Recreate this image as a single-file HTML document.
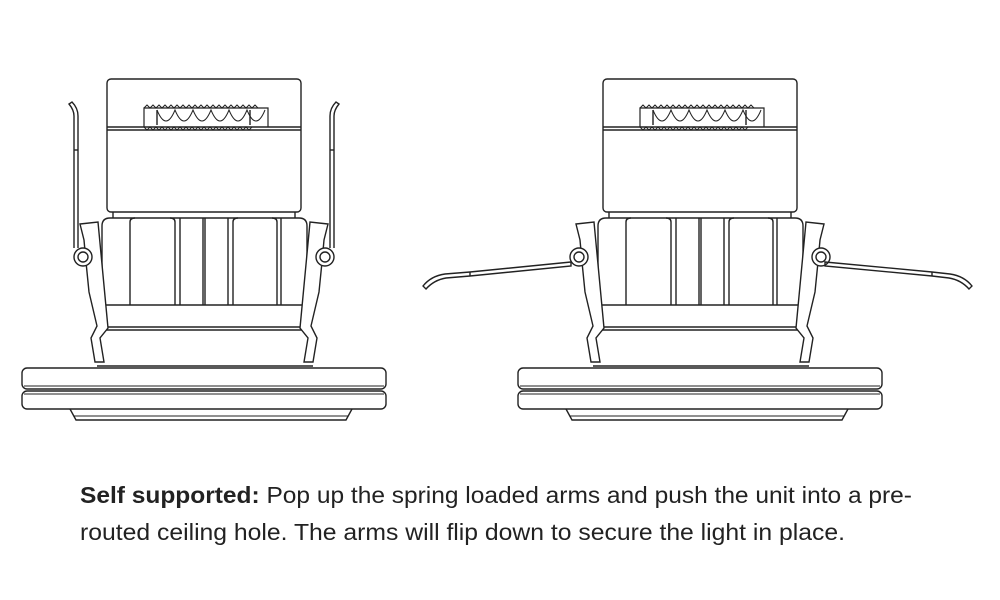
<!DOCTYPE html>
<html><head><meta charset="utf-8"><style>
html,body{margin:0;padding:0;background:#fff;width:1000px;height:600px;overflow:hidden}
svg{display:block}
</style></head><body>
<svg width="1000" height="600" viewBox="0 0 1000 600" xmlns="http://www.w3.org/2000/svg">
<defs>
<g id="unit" fill="none" stroke="#222" stroke-width="1.4">
  <rect x="107" y="79" width="194" height="133" rx="4" fill="#fff"/>
  <line x1="107" y1="127" x2="301" y2="127"/>
  <line x1="107" y1="130" x2="301" y2="130"/>
  <path d="M144 127 V108 H268 V127" stroke-width="1.2"/>
  <path d="M144 108 l3 -3 3 3 3 -3 3 3 3 -3 3 3 3 -3 3 3 3 -3 3 3 3 -3 3 3 3 -3 3 3 3 -3 3 3 3 -3 3 3 3 -3 3 3 3 -3 3 3 3 -3 3 3 3 -3 3 3 3 -3 3 3 3 -3 3 3 3 -3 3 3 3 -3 3 3 3 -3 3 3 3 -3 3 3" stroke-width="1"/>
  <path d="M144 127 l3 3 3 -3 3 3 3 -3 3 3 3 -3 3 3 3 -3 3 3 3 -3 3 3 3 -3 3 3 3 -3 3 3 3 -3 3 3 3 -3 3 3 3 -3 3 3 3 -3 3 3 3 -3 3 3 3 -3 3 3 3 -3 3 3 3 -3 3 3 3 -3 3 3 3 -3 3 3 3 -3" stroke-width="1"/>
  <path d="M157 110 q9 22 18 0 q9 22 18 0 q9 22 18 0 q9 22 18 0 q9 22 18 0 q9 22 18 0" stroke-width="1"/>
  <line x1="157" y1="110" x2="157" y2="125"/><line x1="250" y1="110" x2="250" y2="125"/>
  <line x1="113" y1="212" x2="113" y2="218"/><line x1="295" y1="212" x2="295" y2="218"/>
  <path d="M102 305 V226 q0 -8 8 -8 H299 q8 0 8 8 V305 Z" fill="#fff"/>
  <path d="M130 305 V222 q0 -4 5 -4 M175 305 V222 q0 -4 -5 -4 M180 305 V218 M203 305 V218 M205 305 V218 M228 305 V218 M233 305 V222 q0 -4 5 -4 M277 305 V222 q0 -4 -5 -4 M281 305 V218"/>
  <path d="M102 305 V327 H307 V305"/>
  <line x1="102" y1="330" x2="307" y2="330"/>
  <line x1="97" y1="366" x2="313" y2="366"/>
  <rect x="22" y="368" width="364" height="21" rx="5" fill="#fff"/>
  <rect x="22" y="391" width="364" height="18" rx="5" fill="#fff"/>
  <line x1="24" y1="386" x2="384" y2="386" stroke-width="1"/>
  <line x1="24" y1="394" x2="384" y2="394" stroke-width="1"/>
  <path d="M70 409 L76 420 H346 L352 409"/>
  <line x1="74" y1="416" x2="348" y2="416" stroke-width="1"/>
  <path d="M80 224 L98 222 L108 328 L100 338 L104 362 L95 362 L91 338 L97 326 L89 292 L86 262 L84 240 Z" fill="#fff"/>
  <path d="M328 224 L310 222 L300 328 L308 338 L304 362 L313 362 L317 338 L311 326 L319 292 L322 262 L324 240 Z" fill="#fff"/>
  <circle cx="83" cy="257" r="9" fill="#fff"/><circle cx="83" cy="257" r="5"/>
  <circle cx="325" cy="257" r="9" fill="#fff"/><circle cx="325" cy="257" r="5"/>
</g>
</defs>
<use href="#unit"/>
<use href="#unit" transform="translate(496,0)"/>
<g fill="none" stroke="#222" stroke-width="1.4">
  <path d="M74 248 V116 q0 -6 -5 -12 l3 -2 q6 6 6 14 V248"/>
  <line x1="74" y1="150" x2="78" y2="150"/>
  <path d="M334 248 V116 q0 -6 5 -12 l-3 -2 q-6 6 -6 14 V248"/>
  <line x1="330" y1="150" x2="334" y2="150"/>
  <path d="M571 262 L470 272 L445 274 q-14 2 -22 12 l3 3 q8 -9 20 -11 L470 276 L571 266 Z"/>
  <line x1="470" y1="272" x2="470" y2="276"/>
  <path d="M825 262 L932 272 L950 274 q14 2 22 12 l-3 3 q-8 -9 -20 -11 L932 276 L825 266 Z"/>
  <line x1="932" y1="272" x2="932" y2="276"/>
</g>
<g font-family="Liberation Sans, sans-serif" font-size="23" fill="#222">
  <text x="80" y="503" textLength="832" lengthAdjust="spacingAndGlyphs"><tspan font-weight="bold">Self supported:</tspan> Pop up the spring loaded arms and push the unit into a pre-</text>
  <text x="80" y="540" textLength="765" lengthAdjust="spacingAndGlyphs">routed ceiling hole. The arms will flip down to secure the light in place.</text>
</g>
</svg>
</body></html>
